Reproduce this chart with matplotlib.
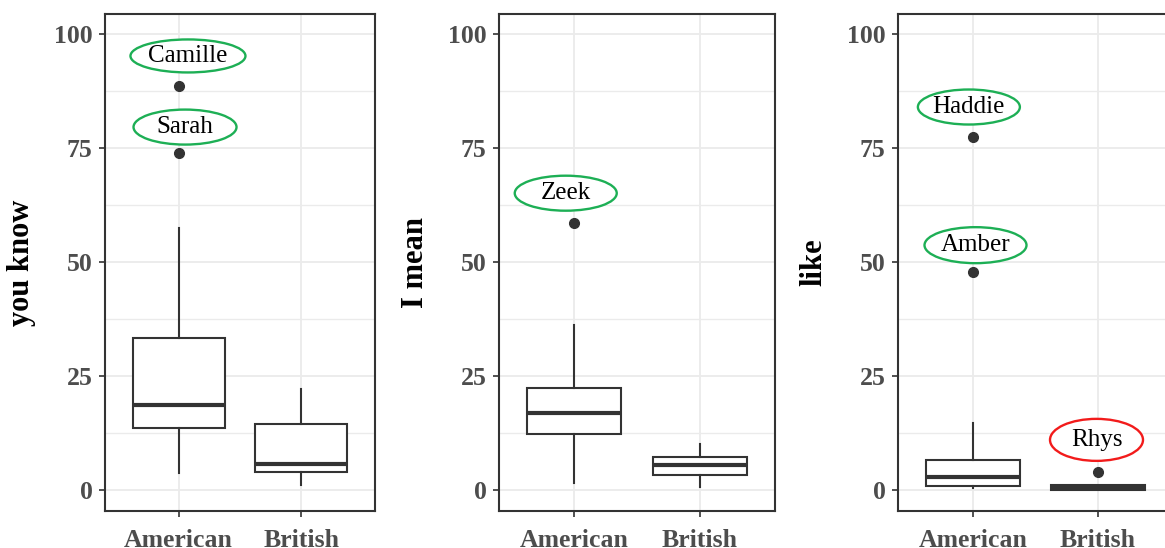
import numpy as np
import matplotlib
matplotlib.use("Agg")
import matplotlib.pyplot as plt
from matplotlib.patches import Ellipse

plt.rcParams["font.family"] = ["Liberation Serif", "DejaVu Serif"]

# ---- data: box summaries per panel (American, British) ----
groups = ["American", "British"]
panels = ["you know", "I mean", "like"]

whislo = [[3.7, 1.0], [1.5, 0.6], [0.4, 0.0]]
q1     = [[13.7, 3.9], [12.2, 3.3], [0.8, 0.0]]
med    = [[18.6, 5.8], [16.9, 5.4], [2.9, 0.5]]
q3     = [[33.4, 14.5], [22.3, 7.3], [6.5, 1.1]]
whishi = [[57.4, 22.2], [36.2, 10.2], [14.6, 1.1]]
fliers = [[[88.5, 74.0], []], [[58.6], []], [[77.4, 47.9], [3.9]]]

# named outliers: panel, label, ring colour
names = [(0, "Camille", "#1DAF55"), (0, "Sarah", "#1DAF55"),
         (1, "Zeek", "#1DAF55"),
         (2, "Haddie", "#1DAF55"), (2, "Amber", "#1DAF55"), (2, "Rhys", "#F21B1B")]

# label placement (data coords) and ring size in pixels
label_xy = [(1.076, 95.2), (1.052, 79.6), (0.932, 65.1), (0.967, 84.0), (1.02, 53.7), (1.988, 11.0)]
ring_px = [(115, 33), (103, 35), (102, 35), (102, 35), (102, 36), (93, 42)]

W, H = 1165, 548
fig = plt.figure(figsize=(W / 100, H / 100), dpi=100)
ax_px = [(105, 270), (499, 276), (898, 275)]   # left, width in pixels
top, bottom = 14, 511
YLIM = (-4.6, 104.4)
GRID = "#EBEBEB"
INK = "#333333"

axes = []
for i, (x0, w) in enumerate(ax_px):
    ax = fig.add_axes([x0 / W, (H - bottom) / H, w / W, (bottom - top) / H])
    axes.append(ax)
    stats = [dict(whislo=whislo[i][j], q1=q1[i][j], med=med[i][j], q3=q3[i][j],
                  whishi=whishi[i][j], fliers=fliers[i][j]) for j in range(2)]
    ax.bxp(stats, positions=[1, 2], widths=0.75, showcaps=False, patch_artist=True,
           boxprops=dict(facecolor="white", edgecolor=INK, linewidth=1.5),
           whiskerprops=dict(color=INK, linewidth=1.5),
           medianprops=dict(color=INK, linewidth=3.0, solid_capstyle="butt"),
           flierprops=dict(marker="o", markersize=7, markerfacecolor=INK,
                           markeredgecolor=INK), zorder=3)
    ax.set_xlim(0.4, 2.6)
    ax.set_ylim(*YLIM)
    ax.set_yticks([0, 25, 50, 75, 100])
    ax.set_yticks([12.5, 37.5, 62.5, 87.5], minor=True)
    ax.set_xticks([1, 2])
    ax.set_xticklabels(groups)
    ax.grid(True, which="major", color=GRID, linewidth=1.3, zorder=0)
    ax.grid(True, which="minor", axis="y", color=GRID, linewidth=1.0, zorder=0)
    ax.set_axisbelow(True)
    ax.tick_params(axis="both", which="major", length=4, width=1.2, color=INK,
                   labelsize=18.5, labelcolor="#4D4D4D")
    ax.tick_params(axis="x", which="major", pad=9)
    ax.tick_params(axis="y", which="major", pad=5)
    ax.tick_params(axis="y", which="minor", length=0)
    for lab in ax.get_xticklabels() + ax.get_yticklabels():
        lab.set_fontweight("bold")
    for s in ax.spines.values():
        s.set_color(INK)
        s.set_linewidth(1.5)
    ax.set_ylabel(panels[i], fontsize=22, fontweight="bold", color="black", labelpad=13)

# rings around the named speakers
for (p, name, col), (lx, ly), (rw, rh) in zip(names, label_xy, ring_px):
    ax = axes[p]
    px_x = ax_px[p][1] / 2.2
    px_y = (bottom - top) / (YLIM[1] - YLIM[0])
    ax.add_patch(Ellipse((lx, ly), rw / px_x, rh / px_y, facecolor="white",
                         edgecolor=col, linewidth=1.7, zorder=5, clip_on=False))
    ax.text(lx, ly, name, ha="center", va="center", fontsize=18, color="black", zorder=6)

fig.savefig("out.png", dpi=100)
